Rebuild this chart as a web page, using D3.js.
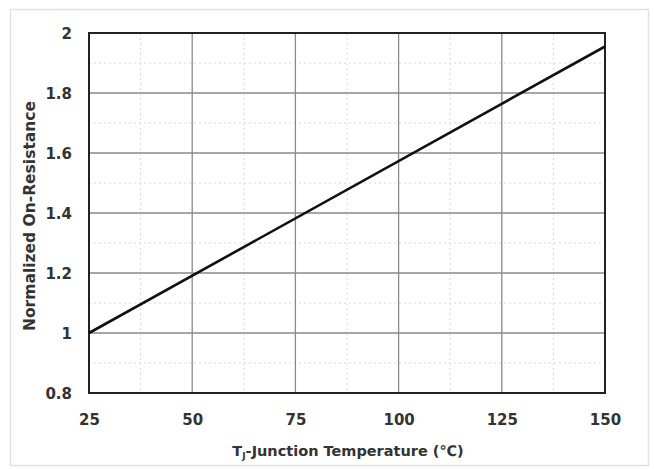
<!DOCTYPE html>
<html><head><meta charset="utf-8">
<script src="https://cdn.jsdelivr.net/npm/d3@7"></script>
<style>body{margin:0;background:#fff;} text{font-family:"DejaVu Sans",Arial,sans-serif;font-weight:bold;fill:#333;}</style>
</head><body>
<svg id="c" width="654" height="469"></svg>
<script>
const temperature = [25, 150];
const resistance = [1.0, 1.955];
const xTicks = [25, 50, 75, 100, 125, 150];
const yTicks = [0.8, 1, 1.2, 1.4, 1.6, 1.8, 2];
const xMinor = [37.5, 62.5, 87.5, 112.5, 137.5];
const yMinor = [0.9, 1.1, 1.3, 1.5, 1.7, 1.9];

const svg = d3.select("#c");
const m = {l: 89, r: 605, t: 33, b: 393};
const x = d3.scaleLinear().domain([25, 150]).range([m.l, m.r]);
const y = d3.scaleLinear().domain([0.8, 2]).range([m.b, m.t]);

svg.append("rect").attr("x", 10.5).attr("y", 9.5).attr("width", 638).attr("height", 456)
  .attr("fill", "#fff").attr("stroke", "#e2e2e2").attr("stroke-width", 1.5);

const g = svg.append("g");
g.selectAll(".mx").data(xMinor).join("line").attr("x1", d => x(d)).attr("x2", d => x(d))
  .attr("y1", m.t).attr("y2", m.b).attr("stroke", "#d8d8d8").attr("stroke-dasharray", "2,3");
g.selectAll(".my").data(yMinor).join("line").attr("y1", d => y(d)).attr("y2", d => y(d))
  .attr("x1", m.l).attr("x2", m.r).attr("stroke", "#d8d8d8").attr("stroke-dasharray", "2,3");

g.selectAll(".gx").data(xTicks.slice(1, -1)).join("line").attr("x1", d => x(d)).attr("x2", d => x(d))
  .attr("y1", m.t).attr("y2", m.b).attr("stroke", "#8a8a8a").attr("stroke-width", 1.3);
g.selectAll(".gy").data(yTicks.slice(1, -1)).join("line").attr("y1", d => y(d)).attr("y2", d => y(d))
  .attr("x1", m.l).attr("x2", m.r).attr("stroke", "#8a8a8a").attr("stroke-width", 1.3);

g.append("rect").attr("x", m.l).attr("y", m.t).attr("width", m.r - m.l).attr("height", m.b - m.t)
  .attr("fill", "none").attr("stroke", "#222").attr("stroke-width", 2);

const pts = temperature.map((t, i) => [t, resistance[i]]);
g.append("path").datum(pts).attr("fill", "none").attr("stroke", "#111").attr("stroke-width", 2.6)
  .attr("d", d3.line().x(d => x(d[0])).y(d => y(d[1])));

const xAxis = d3.axisBottom(x).tickValues(xTicks).tickSize(0).tickPadding(0).tickFormat(d3.format("d"));
const ax = svg.append("g").attr("transform", `translate(0,${m.b})`).call(xAxis);
ax.select(".domain").remove();
ax.selectAll("text").attr("dy", null).attr("y", 32).style("font-size", "15px").attr("fill", "#333")
  .style("font-family", "'DejaVu Sans',sans-serif").style("font-weight", "bold");

const yAxis = d3.axisLeft(y).tickValues(yTicks).tickSize(0).tickPadding(0).tickFormat(d => d);
const ay = svg.append("g").attr("transform", `translate(${m.l - 17},0)`).call(yAxis);
ay.select(".domain").remove();
ay.selectAll("text").attr("dy", "0.36em").style("font-size", "15px").attr("fill", "#333")
  .style("font-family", "'DejaVu Sans',sans-serif").style("font-weight", "bold");

const xt = svg.append("text").attr("x", 348).attr("y", 456).attr("text-anchor", "middle").style("font-size", "14.5px");
xt.append("tspan").text("T");
xt.append("tspan").attr("dy", 3).style("font-size", "9px").text("J");
xt.append("tspan").attr("dy", -3).text("-Junction Temperature (℃)");

svg.append("text").attr("transform", `translate(35,216) rotate(-90)`).attr("text-anchor", "middle")
  .style("font-size", "15.5px").text("Normalized On-Resistance");
</script>
</body></html>
